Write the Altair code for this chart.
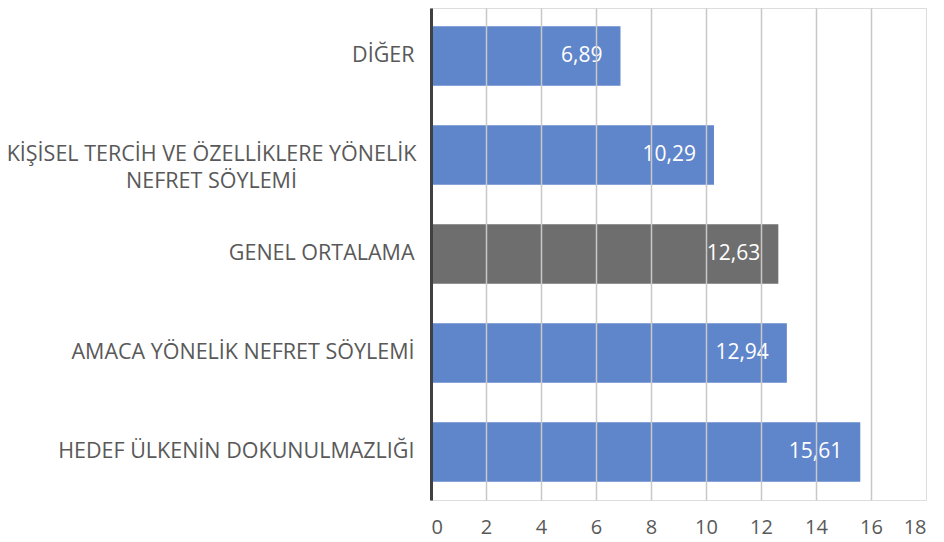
import altair as alt
import pandas as pd

categories = [
    "DİĞER",
    "KİŞİSEL TERCİH VE ÖZELLİKLERE YÖNELİK|NEFRET SÖYLEMİ",
    "GENEL ORTALAMA",
    "AMACA YÖNELİK NEFRET SÖYLEMİ",
    "HEDEF ÜLKENİN DOKUNULMAZLIĞI",
]
values = [6.89, 10.29, 12.63, 12.94, 15.61]
x_ticks = [0, 2, 4, 6, 8, 10, 12, 14, 16, 18]
highlight = "GENEL ORTALAMA"

df = pd.DataFrame({"cat": categories, "val": values})

FONT = "Open Sans"
TXT = "#595959"
LFS = 21.5

y_scale = alt.Scale(paddingInner=0.4, paddingOuter=0.185)

# axis for single-line labels (right aligned)
axis_single = alt.Axis(
    orient="left",
    labelExpr="indexof(datum.label,'|') >= 0 ? '' : datum.label",
    labelFont=FONT,
    labelFontSize=LFS,
    labelColor=TXT,
    labelPadding=17,
    labelLimit=0,
    ticks=False,
    tickSize=0,
    domainColor="#404040",
    domainWidth=3,
    grid=False,
    zindex=2,
)

# axis for the multi-line label (centered lines)
axis_multi = alt.Axis(
    orient="left",
    labelExpr="indexof(datum.label,'|') >= 0 ? split(datum.label,'|') : ''",
    labelFont=FONT,
    labelFontSize=LFS,
    labelColor=TXT,
    labelAlign="center",
    labelPadding=220,
    labelLineHeight=27,
    labelLimit=0,
    ticks=False,
    tickSize=0,
    domain=False,
    grid=False,
)

x_axis = alt.Axis(
    values=x_ticks,
    labelFont=FONT,
    labelFontSize=20,
    labelColor=TXT,
    labelPadding=17,
    ticks=False,
    tickSize=0,
    domain=False,
    grid=True,
    gridColor={"condition": {"test": "datum.value >= 18", "value": "transparent"}, "value": "#C8C8C8"},
    gridWidth=1.5,
    zindex=1,
)
x_scale = alt.Scale(domain=[0, 18], nice=False)

bars = alt.Chart(df).mark_bar(stroke=None).encode(
    y=alt.Y("cat:N", sort=categories, title=None, scale=y_scale, axis=axis_single),
    x=alt.X("val:Q", title=None, scale=x_scale, axis=x_axis),
    color=alt.condition(
        alt.datum.cat == highlight, alt.value("#6E6E6E"), alt.value("#5F85CB")
    ),
)

labels = alt.Chart(df).transform_calculate(
    lab="replace(format(datum.val, '.2f'), '.', ',')"
).mark_text(
    align="right", baseline="middle", dx=-18, color="white", font=FONT, fontSize=21
).encode(
    y=alt.Y("cat:N", sort=categories, title=None, scale=y_scale, axis=axis_multi),
    x=alt.X("val:Q", title=None, scale=x_scale, axis=x_axis),
    text="lab:N",
)

chart = (
    alt.layer(bars, labels)
    .resolve_axis(y="independent")
    .properties(
        width=495,
        height=492,
        autosize=alt.AutoSizeParams(type="none"),
        padding={"left": 423, "top": 0, "right": 10, "bottom": 40},
    )
    .configure_view(stroke=None, strokeWidth=0)
    .configure(background="white")
)

chart.save("out.html", embed_options={"renderer": "svg", "actions": False})
